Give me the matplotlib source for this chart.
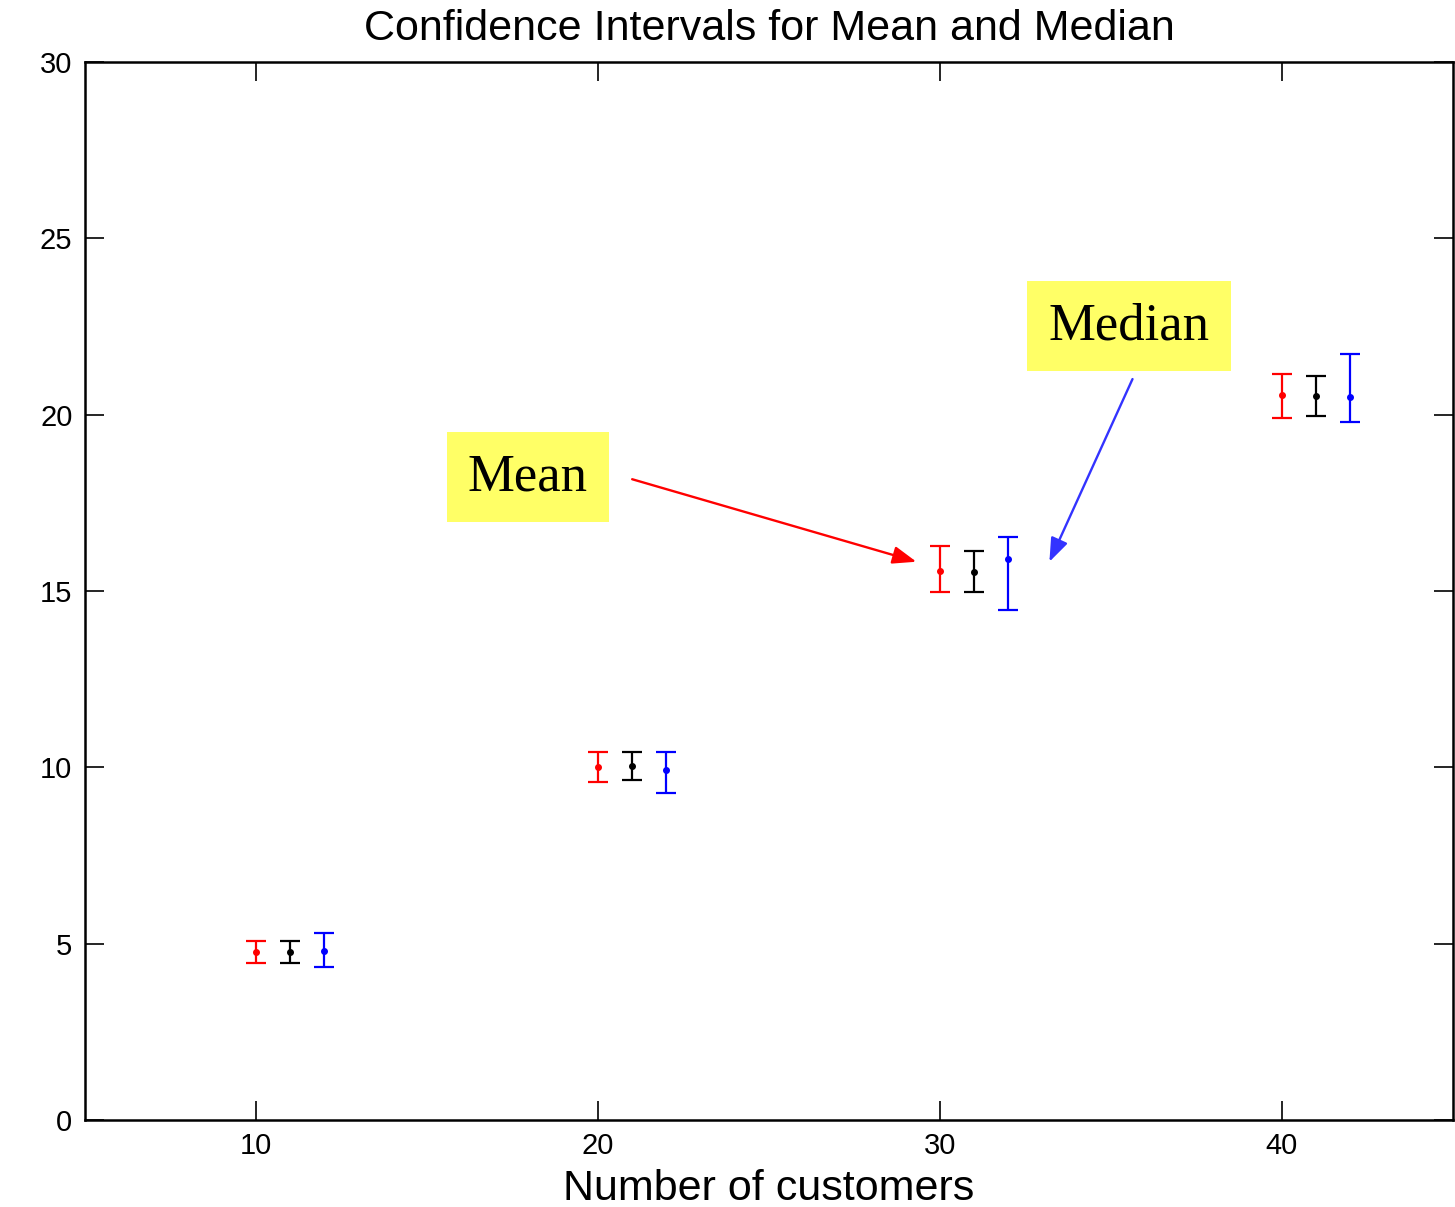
import numpy as np
import matplotlib
matplotlib.use('Agg')
import matplotlib.pyplot as plt

# customers per run, and the three estimates drawn side by side at n, n+1, n+2
customers = [10, 20, 30, 40]

mean_center = [4.76, 10.02, 15.58, 20.57]
mean_low = [4.46, 9.59, 14.96, 19.90]
mean_high = [5.08, 10.44, 16.28, 21.15]

mid_center = [4.76, 10.05, 15.53, 20.53]
mid_low = [4.45, 9.64, 14.96, 19.96]
mid_high = [5.07, 10.44, 16.14, 21.10]

median_center = [4.80, 9.92, 15.91, 20.49]
median_low = [4.35, 9.28, 14.46, 19.78]
median_high = [5.31, 10.44, 16.52, 21.71]

xticks = [10, 20, 30, 40]
yticks = [0, 5, 10, 15, 20, 25, 30]

plt.rcParams['font.family'] = ['Liberation Sans', 'DejaVu Sans']

fig = plt.figure(figsize=(14.55, 12.07), dpi=100)
ax = fig.add_axes([0.0584, 0.0721, 0.9402, 0.8765])


def draw_ci(offset, center, low, high, color):
    x = np.array(customers) + offset
    c = np.array(center)
    err = [c - np.array(low), np.array(high) - c]
    ax.errorbar(x, c, yerr=err, fmt='o', color=color, ecolor=color,
                markersize=4, elinewidth=1.6, capsize=7.5, capthick=1.6)


draw_ci(0, mean_center, mean_low, mean_high, 'red')
draw_ci(1, mid_center, mid_low, mid_high, 'black')
draw_ci(2, median_center, median_low, median_high, 'blue')

ax.set_xlim(5, 45)
ax.set_ylim(0, 30)
ax.set_xticks(xticks)
ax.set_yticks(yticks)
ax.tick_params(direction='in', length=14, width=1.2, labelsize=21,
               top=True, right=True, pad=9)
for s in ax.spines.values():
    s.set_linewidth(1.8)

ax.set_title('Confidence Intervals for Mean and Median', fontsize=31, pad=16)
ax.set_xlabel('Number of customers', fontsize=31, labelpad=6)

# yellow labels with arrows pointing at the 30-customer group
box = dict(boxstyle='square,pad=0.4', facecolor='#ffff66', edgecolor='none')
ax.text(17.95, 18.23, 'Mean', ha='center', va='center', fontsize=38,
        family='Liberation Serif', bbox=box)
ax.text(35.53, 22.51, 'Median', ha='center', va='center', fontsize=38,
        family='Liberation Serif', bbox=box)

head = '-|>,head_length=0.8,head_width=0.3'
ax.annotate('', xy=(29.31, 15.83), xytext=(21.00, 18.17),
            arrowprops=dict(arrowstyle=head, color='red', lw=1.7,
                            mutation_scale=18, shrinkA=0, shrinkB=0))
ax.annotate('', xy=(33.20, 15.83), xytext=(35.63, 21.01),
            arrowprops=dict(arrowstyle=head, color='#3333ff', lw=1.7,
                            mutation_scale=18, shrinkA=0, shrinkB=0))

fig.savefig('out.png', dpi=100)
